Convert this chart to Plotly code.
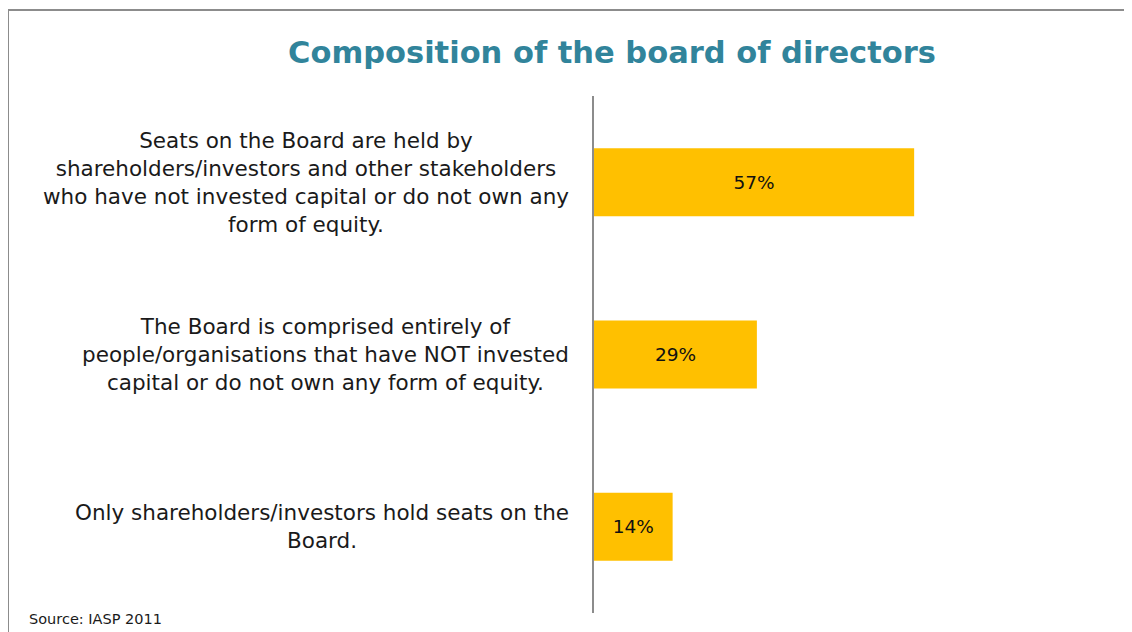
import plotly.graph_objects as go

# survey answers, top to bottom
labels = [
    "Seats on the Board are held by<br>shareholders/investors and other stakeholders<br>who have not invested capital or do not own any<br>form of equity.",
    "The Board is comprised entirely of<br>people/organisations that have NOT invested<br>capital or do not own any form of equity.",
    "Only shareholders/investors hold seats on the<br>Board.",
]
shares = [57, 29, 14]
cats = ["a", "b", "c"]

W, H = 1132, 632
OFF = 8  # page body margin
L, T, PW, PH = 586, 88, 337, 517
R = W - L - PW
B = H - T - PH


def px(xp):
    return (xp - OFF - L) / PW


def py(yp):
    return (T + PH - (yp - OFF)) / PH


fig = go.Figure()
fig.add_trace(go.Bar(
    y=cats,
    x=shares,
    orientation="h",
    marker=dict(color="#FFC000", line=dict(width=0)),
    text=[f"{v}%" for v in shares],
    textposition="inside",
    insidetextanchor="middle",
    textfont=dict(family="DejaVu Sans", size=18.5, color="#111111"),
    hoverinfo="skip",
))

# category labels, centred text sitting left of the axis
for c, lab in zip(cats, labels):
    fig.add_annotation(
        x=0, y=c, xref="x", yref="y",
        text=lab, showarrow=False,
        xanchor="right", yanchor="middle", align="center",
        xshift=-23,
        font=dict(family="DejaVu Sans", size=21.5, color="#1a1a1a"),
    )

fig.add_annotation(
    x=px(27), y=py(619), xref="paper", yref="paper",
    text="Source: IASP 2011", showarrow=False,
    xanchor="left", yanchor="middle",
    font=dict(family="DejaVu Sans", size=14.5, color="#1a1a1a"),
)

fig.update_layout(
    width=W, height=H,
    margin=dict(l=L, r=R, t=T, b=B),
    paper_bgcolor="white", plot_bgcolor="white",
    showlegend=False,
    bargap=0.605,
    title=dict(
        text="<b>Composition of the board of directors</b>",
        x=(612 - OFF) / W, xanchor="center",
        y=1 - (52 - OFF) / H, yanchor="middle",
        font=dict(family="DejaVu Sans", size=30.5, color="#31849B"),
    ),
    shapes=[
        dict(type="line", xref="paper", yref="paper",
             x0=px(8), x1=px(1140), y0=py(10), y1=py(10),
             line=dict(color="#8c8c8c", width=2)),
        dict(type="line", xref="paper", yref="paper",
             x0=px(8), x1=px(8), y0=py(10), y1=py(640),
             line=dict(color="#8c8c8c", width=2)),
    ],
)

fig.update_xaxes(range=[0, 60], visible=False, fixedrange=True)
fig.update_yaxes(
    autorange="reversed", showticklabels=False, ticks="",
    showgrid=False, zeroline=False,
    showline=True, linecolor="#8c8c8c", linewidth=2,
)

fig.write_html("out.html")
